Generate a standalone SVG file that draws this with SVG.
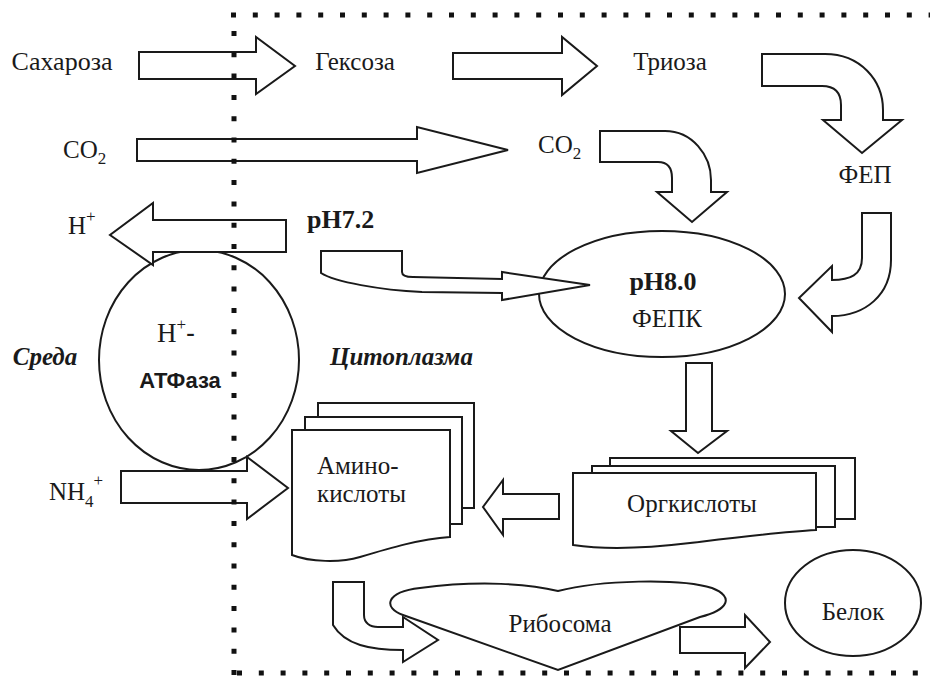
<svg xmlns="http://www.w3.org/2000/svg" width="930" height="677" viewBox="0 0 930 677">
<style>
.s{fill:#fff;stroke:#1a1a1a;stroke-width:2;stroke-linejoin:miter}
text{font-family:'Liberation Serif','DejaVu Serif','Times New Roman',serif;font-size:25px;fill:#1a1a1a}
.b{font-weight:bold}
.bi{font-weight:bold;font-style:italic}
.c{text-anchor:middle}
.sans{font-family:'Liberation Sans',Arial,sans-serif}
.dot{fill:none;stroke:#111;stroke-width:5}
</style>
<rect width="930" height="677" fill="#fff"/>

<g id="connectors">
<path class="s" d="M139,52 H256 V37 L295,66 L256,94 V79 H139 Z"/>
<path class="s" d="M453,53 H562 V37 L597,66 L562,95 V79 H453 Z"/>
<path class="s" d="M137,139 H417 V127 L508,150 L417,173 V161 H137 Z"/>
<path class="s" d="M762,54 H825 C860,54 883,80 883,110 V120 H902 L862,153 L823,120 H841 V105 C841,93 835,86 822,86 H762 Z"/>
<path class="s" d="M600,131 H665 C692,131 711,155 711,180 V192 H727 L692,222 L657,192 H672 V178 C672,168 668,162 658,162 H600 Z"/>
<path class="s" d="M862,213 H891 V260 C891,295 865,316 832,316 V332 L799,298 L832,266 V280 C850,280 862,275 862,258 Z"/>
<path class="s" d="M686,363 H712 V431 H727 L698,453 L671,431 H686 Z"/>
<path class="s" d="M559,494 H503 V480 L483,507 L503,535 V519 H559 Z"/>
</g>

<g id="node-atpase">
<ellipse class="s" cx="199" cy="360" rx="100" ry="110"/>
<text font-family="Liberation Serif, serif" x="157" y="342" style="font-size:27px">H<tspan dy="-12" style="font-size:17px">+</tspan><tspan dy="12" class="sans">-</tspan></text>
<text class="c b sans" x="180" y="388" style="font-size:22px">АТФаза</text>
</g>

<g id="connectors-2">
<path class="s" d="M286,220 H153 V203 L110,235 L153,265 V252 H286 Z"/>
<path class="s" d="M121,471 H247 V457 L288,488 L247,519 V503 H121 Z"/>
</g>

<g id="node-fepk">
<ellipse class="s" cx="662" cy="294" rx="123" ry="63"/>
<text class="c b" x="663" y="290" style="font-size:26px">pH8.0</text>
<text class="c" x="667" y="327">ФЕПК</text>
</g>

<g id="connector-ph">
<path class="s" d="M321,251 H402 V272 C402,275 406,277 413,277 L502,279 V272 L590,285 L502,300 V293 L422,292 C380,290 335,282 321,273 Z"/>
</g>

<g id="node-amino">
<rect class="s" x="318" y="403" width="156" height="105"/>
<rect class="s" x="305" y="417" width="157" height="107"/>
<path class="s" d="M292,430 H450 V537 C420,539 390,548 360,557 C340,563 310,562 292,555 Z"/>
<text x="317" y="474">Амино-</text>
<text x="317" y="502">кислоты</text>
</g>

<g id="node-org">
<rect class="s" x="610" y="458" width="245" height="61"/>
<rect class="s" x="592" y="466" width="243" height="61"/>
<path class="s" d="M573,473 H816 V530 C780,532 740,537 690,543 C640,549 600,549 573,545 Z"/>
<text class="c" x="692" y="512">Оргкислоты</text>
</g>

<g id="node-ribosome">
<path class="s" d="M403,615 C383,608 385,592 420,588 C480,580 530,584 558,591 C600,580 680,578 712,588 C735,597 728,610 700,617 L558,670 Z"/>
<text class="c" x="560" y="632">Рибосома</text>
</g>

<g id="connectors-3">
<path class="s" d="M333,582 H364 V615 C364,623 370,627 378,627 H403 V617 L438,640 L403,662 V650 C370,650 345,645 333,625 Z"/>
<path class="s" d="M680,627 H745 V615 L770,642 L745,668 V653 H680 Z"/>
</g>

<g id="node-protein">
<ellipse class="s" cx="853" cy="603" rx="68" ry="53"/>
<text class="c" x="853" y="620">Белок</text>
</g>

<g id="labels">
<text class="c" x="62" y="70" style="font-size:26px">Сахароза</text>
<text class="c" x="355" y="70">Гексоза</text>
<text class="c" x="670" y="70">Триоза</text>
<text class="c" x="865" y="183">ФЕП</text>
<text x="63" y="158">CO<tspan dy="6" style="font-size:17px">2</tspan></text>
<text x="538" y="153">CO<tspan dy="6" style="font-size:17px">2</tspan></text>
<text x="68" y="234">H<tspan dy="-12" style="font-size:17px">+</tspan></text>
<text class="b" x="307" y="228" style="font-size:26px">pH7.2</text>
<text class="bi c" x="45" y="365">Среда</text>
<text class="bi" x="330" y="365">Цитоплазма</text>
<text x="49" y="500">NH<tspan dy="7" style="font-size:17px">4</tspan><tspan dy="-21" style="font-size:17px">+</tspan></text>
</g>

<g id="membrane">
<path class="dot" d="M231,15 H930" stroke-dasharray="5 16.8"/>
<path class="dot" d="M234,31 V677" stroke-dasharray="5 16.3"/>
<path class="dot" d="M237,673 H930" stroke-dasharray="5 16.8"/>
</g>
</svg>
